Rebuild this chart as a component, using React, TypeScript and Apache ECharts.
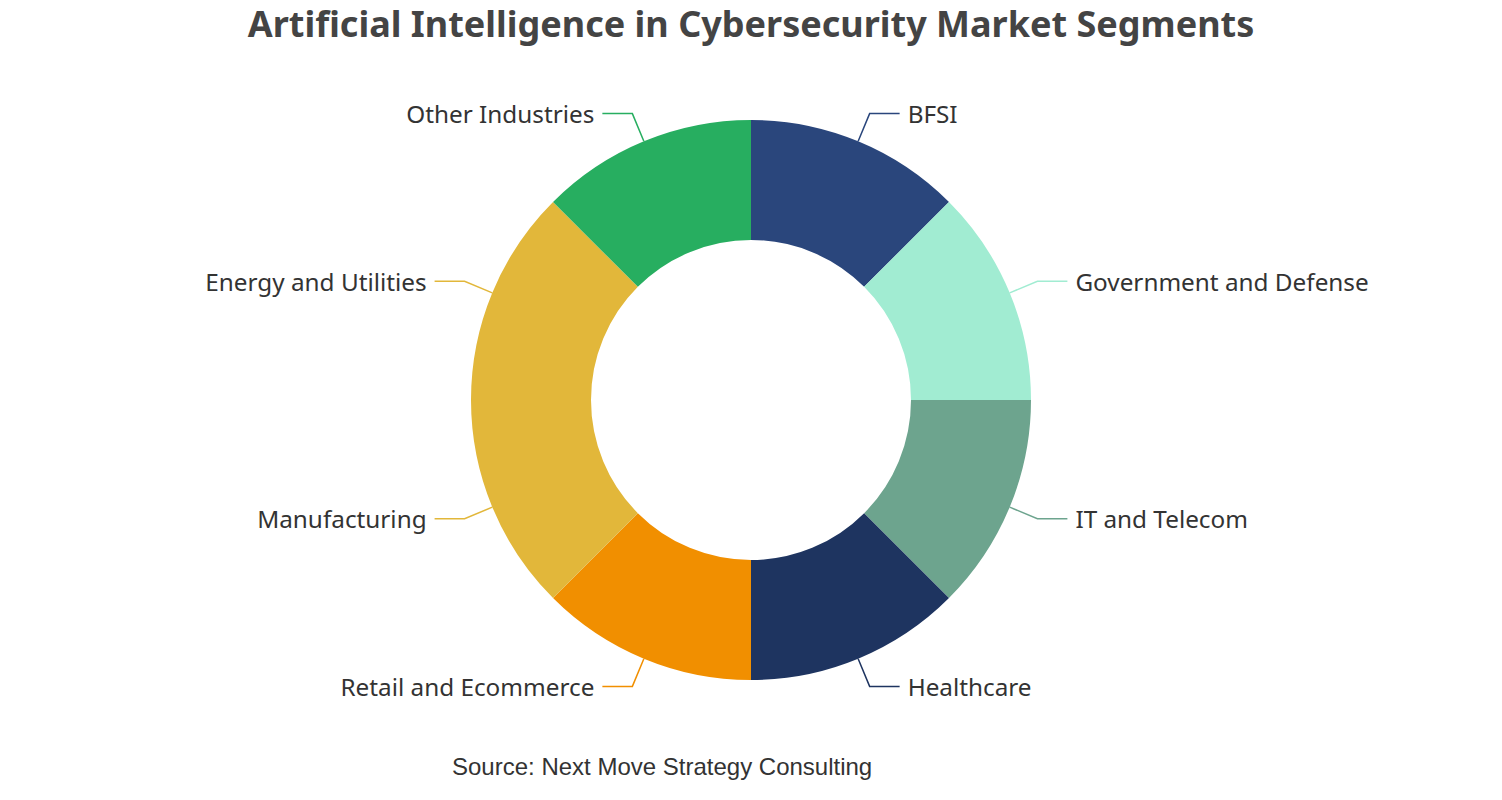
import React, { useEffect, useRef } from "react";
import * as echarts from "echarts";

const categories = [
  "BFSI",
  "Government and Defense",
  "IT and Telecom",
  "Healthcare",
  "Retail and Ecommerce",
  "Manufacturing",
  "Energy and Utilities",
  "Other Industries",
];
const values = [12.5, 12.5, 12.5, 12.5, 12.5, 12.5, 12.5, 12.5];
const colors = [
  "#2a467c",
  "#a1ecd2",
  "#6da48e",
  "#1e3460",
  "#f18f00",
  "#e2b73a",
  "#e2b73a",
  "#27ae60",
];
const titleText = "Artificial Intelligence in Cybersecurity Market Segments";
const sourceText = "Source: Next Move Strategy Consulting";

export default function App() {
  const ref = useRef<HTMLDivElement>(null);
  useEffect(() => {
    if (!ref.current) return;
    const chart = echarts.init(ref.current, null, { renderer: "svg" });
    chart.setOption({
      animation: false,
      backgroundColor: "#ffffff",
      title: {
        text: titleText,
        left: "center",
        top: 0,
        textStyle: {
          fontFamily: "Noto Sans",
          fontWeight: "bold",
          fontSize: 36,
          color: "#444444",
        },
      },
      graphic: [
        {
          type: "text",
          left: 452,
          top: 754,
          style: {
            text: sourceText,
            fontFamily: "Liberation Sans",
            fontSize: 24,
            fill: "#333333",
          },
        },
      ],
      series: [
        {
          type: "pie",
          center: ["50%", "50%"],
          radius: [160, 280],
          startAngle: 90,
          clockwise: true,
          avoidLabelOverlap: false,
          data: categories.map((name, i) => ({
            name,
            value: values[i],
            itemStyle: { color: colors[i] },
          })),
          label: {
            show: true,
            formatter: "{b}",
            fontFamily: "Noto Sans",
            fontSize: 24.3,
            color: "#333333",
            distanceToLabelLine: 8,
            padding: [0, 0, 4, 0],
          },
          labelLine: {
            show: true,
            length: 30,
            length2: 30,
            lineStyle: { width: 1.5 },
          },
        },
      ],
    });
    return () => chart.dispose();
  }, []);
  return (
    <div
      ref={ref}
      style={{ position: "fixed", left: 0, top: 0, width: 1502, height: 800 }}
    />
  );
}
